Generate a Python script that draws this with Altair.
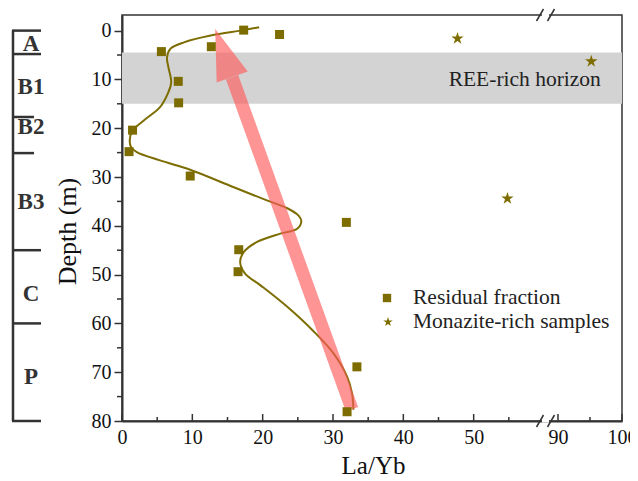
import altair as alt
import pandas as pd

FONT = "Liberation Serif"
OLIVE = "#7d6d00"
DARK = "#333333"

# ---- data ----
res_layb = [17.3, 22.4, 12.7, 5.6, 8.0, 8.05, 1.5, 1.0, 9.7, 31.9, 16.6, 16.5, 33.4, 32.0]
res_depth = [-0.1, 0.8, 3.3, 4.3, 10.4, 14.8, 20.4, 24.8, 29.8, 39.3, 44.9, 49.4, 68.9, 78.1]

mon_layb = [47.7, 54.8, 95.2]
mon_depth = [1.6, 34.4, 6.3]

curve_layb = [19.5, 17.3, 12.6, 8.8, 6.9, 6.4, 6.6, 7.0, 6.6, 5.4, 3.1, 1.5, 1.1, 1.3, 2.1,
              5.4, 9.7, 15.9, 20.6, 23.5, 25.1, 25.5, 24.9, 22.5, 19.2, 17.3, 16.8, 17.5,
              19.7, 23.5, 27.3, 30.1, 32.0, 32.7, 32.9]
curve_depth = [-0.7, -0.1, 1.0, 2.4, 3.7, 5.5, 7.5, 10.6, 12.6, 15.7, 18.4, 20.5, 22.5, 23.9, 24.9,
               26.6, 28.5, 32.1, 34.8, 36.4, 37.9, 39.0, 40.6, 41.6, 43.3, 45.4, 47.4, 49.8,
               52.2, 56.6, 61.7, 66.2, 70.9, 74.3, 77.7]

band_depth = [4.5, 15.0]
band_layb = [0, 100]

arrow_layb = [32.7, 15.65]      # tail -> base of head
arrow_depth = [77.6, 9.55]
head_layb = [14.46]
head_depth = [4.6]

horizon_bounds = [0, 4.8, 60, 45, 80]
horizon_bounds_short = [17.7, 25.1]
horizon_labels = ["A", "B1", "B2", "B3", "C", "P"]
horizon_label_depth = [2.7, 11.5, 19.8, 35.1, 54.0, 70.9]

y_ticks = [0, 10, 20, 30, 40, 50, 60, 70, 80]
y_minor = [5, 15, 25, 35, 45, 55, 65, 75]
x_ticks = [0, 10, 20, 30, 40, 50, 90, 100]
x_minor = [5, 15, 25, 35, 45, 55, 95]

legend_labels = ["Residual fraction", "Monazite-rich samples"]

W, H = 500, 406

STAR = ("M0,-1L0.2245,-0.309L0.951,-0.309L0.3633,0.118L0.588,0.809L0,0.382"
        "L-0.588,0.809L-0.3633,0.118L-0.951,-0.309L-0.2245,-0.309Z")
HEAD = "M0,-1L0.645,1L-0.645,1Z"

xscale = alt.Scale(domain=[0, 60, 90, 100], range=[0, 422, 436, 500], nice=False, zero=False)
yscale = alt.Scale(domain=[-3.2, 80], reverse=True, nice=False, zero=False)

xaxis = alt.Axis(values=x_ticks, ticks=False, domainColor=DARK, domainWidth=2,
                 labelFont=FONT, labelFontSize=20, labelColor="#111", labelPadding=6,
                 labelFlush=False, grid=False, title="La/Yb", titleFont=FONT,
                 titleFontSize=25, titleFontWeight="normal", titleColor="#111",
                 titleX=251, titleY=52, titleBaseline="alphabetic")
yaxis = alt.Axis(values=y_ticks, domainColor=DARK, domainWidth=2, tickColor=DARK,
                 tickWidth=1.5, tickSize=8, labelFont=FONT, labelFontSize=20,
                 labelColor="#111", labelPadding=3, grid=False, title="Depth (m)",
                 titleFont=FONT, titleFontSize=26, titleFontWeight="normal",
                 titleColor="#111", titleX=-55, titleY=216, titleAlign="center",
                 titleBaseline="middle")


def X(f="x"):
    return alt.X(f"{f}:Q", scale=xscale, axis=xaxis)


def Y(f="y"):
    return alt.Y(f"{f}:Q", scale=yscale, axis=yaxis)


band_df = pd.DataFrame({"x": [band_layb[0]], "x2": [band_layb[1]],
                        "y": [band_depth[0]], "y2": [band_depth[1]]})
band = alt.Chart(band_df).mark_rect(color="#d3d3d3").encode(
    x=X(), x2="x2:Q", y=Y(), y2="y2:Q")

curve_df = pd.DataFrame({"x": curve_layb, "y": curve_depth, "o": list(range(len(curve_layb)))})
curve = alt.Chart(curve_df).mark_line(color=OLIVE, strokeWidth=2,
                                      interpolate="catmull-rom").encode(
    x=X(), y=Y(), order="o:Q")

arrow_df = pd.DataFrame({"x": [arrow_layb[0]], "x2": [arrow_layb[1]],
                         "y": [arrow_depth[0]], "y2": [arrow_depth[1]]})
shaft = alt.Chart(arrow_df).mark_rule(color="#ff5a5a", opacity=0.65, strokeWidth=13,
                                      strokeCap="butt").encode(
    x=X(), x2="x2:Q", y=Y(), y2="y2:Q")
head_df = pd.DataFrame({"x": head_layb, "y": head_depth})
head = alt.Chart(head_df).mark_point(shape=HEAD, filled=True, color="#ff5a5a",
                                     opacity=0.65, size=2601, angle=340.5,
                                     strokeWidth=0).encode(x=X(), y=Y())

res_df = pd.DataFrame({"x": res_layb, "y": res_depth})
squares = alt.Chart(res_df).mark_point(shape="square", filled=True, color=OLIVE,
                                       size=81, opacity=1).encode(x=X(), y=Y())
mon_df = pd.DataFrame({"x": mon_layb, "y": mon_depth})
stars = alt.Chart(mon_df).mark_point(shape=STAR, filled=True, color=OLIVE,
                                     size=170, opacity=1).encode(x=X(), y=Y())

ann_df = pd.DataFrame({"x": [96.7], "y": [10.1], "t": ["REE-rich horizon"]})
ann = alt.Chart(ann_df).mark_text(font=FONT, fontSize=21.5, align="right",
                                  baseline="middle", color="#222").encode(
    x=X(), y=Y(), text="t:N")

# legend (drawn)
leg_sq = alt.Chart(pd.DataFrame({"t": [legend_labels[0]]})).mark_point(
    shape="square", filled=True, color=OLIVE, size=70, opacity=1).encode(
    x=alt.value(265), y=alt.value(283))
leg_st = alt.Chart(pd.DataFrame({"t": [legend_labels[1]]})).mark_point(
    shape=STAR, filled=True, color=OLIVE, size=100, opacity=1).encode(
    x=alt.value(266), y=alt.value(307))
leg_t1 = alt.Chart(pd.DataFrame({"t": [legend_labels[0]]})).mark_text(
    font=FONT, fontSize=21.5, align="left", baseline="middle", color="#222").encode(
    x=alt.value(291), y=alt.value(283), text="t:N")
leg_t2 = alt.Chart(pd.DataFrame({"t": [legend_labels[1]]})).mark_text(
    font=FONT, fontSize=21.5, align="left", baseline="middle", color="#222").encode(
    x=alt.value(291), y=alt.value(307), text="t:N")

# stratigraphic column
col_df = pd.DataFrame({"y": [0], "y2": [80]})
col_line = alt.Chart(col_df).mark_rule(color=DARK, strokeWidth=2.5).encode(
    x=alt.value(-109), y=Y(), y2="y2:Q")
col_ticks = alt.Chart(pd.DataFrame({"y": horizon_bounds})).mark_rule(
    color=DARK, strokeWidth=2.5).encode(x=alt.value(-110), x2=alt.value(-81), y=Y())
col_ticks_s = alt.Chart(pd.DataFrame({"y": horizon_bounds_short})).mark_rule(
    color=DARK, strokeWidth=2.5).encode(x=alt.value(-110), x2=alt.value(-88), y=Y())
col_labels = alt.Chart(pd.DataFrame({"y": horizon_label_depth, "t": horizon_labels})).mark_text(
    font=FONT, fontSize=23, fontWeight="bold", color=DARK, align="center",
    baseline="middle").encode(x=alt.value(-91), y=Y(), text="t:N")

# minor y ticks (outward) and x ticks (inward)
ymin = alt.Chart(pd.DataFrame({"y": y_minor})).mark_rule(color=DARK, strokeWidth=1.5).encode(
    x=alt.value(-5), x2=alt.value(0), y=Y())
xmaj = alt.Chart(pd.DataFrame({"x": x_ticks})).mark_rule(color=DARK, strokeWidth=1.5).encode(
    x=X(), y=alt.value(H), y2=alt.value(H - 7))
xmin = alt.Chart(pd.DataFrame({"x": x_minor})).mark_rule(color=DARK, strokeWidth=1.5).encode(
    x=X(), y=alt.value(H), y2=alt.value(H - 4))

# axis break marks
gap_top = alt.Chart(pd.DataFrame({"a": [0]})).mark_rule(color="white", strokeWidth=3).encode(
    x=alt.value(420), x2=alt.value(427), y=alt.value(0))
gap_bot = alt.Chart(pd.DataFrame({"a": [0]})).mark_rule(color="white", strokeWidth=3).encode(
    x=alt.value(420), x2=alt.value(427), y=alt.value(H))
breaks = []
for cx in (418, 429):
    for cy in (0, H):
        breaks.append(alt.Chart(pd.DataFrame({"a": [0]})).mark_rule(
            color=DARK, strokeWidth=1.5).encode(
            x=alt.value(cx - 3.5), x2=alt.value(cx + 3.5),
            y=alt.value(cy + 6), y2=alt.value(cy - 6)))

chart = alt.layer(
    band, curve, shaft, head, squares, stars, ann,
    leg_sq, leg_st, leg_t1, leg_t2,
    col_line, col_ticks, col_ticks_s, col_labels,
    ymin, xmaj, xmin, gap_top, gap_bot, *breaks
).properties(
    width=W, height=H,
    autosize=alt.AutoSizeParams(type="none"),
    padding={"left": 114, "top": 7, "right": 8, "bottom": 60},
).configure_view(stroke=DARK, strokeWidth=1.5)

chart.save("out.html", embed_options={"renderer": "svg", "actions": False})
